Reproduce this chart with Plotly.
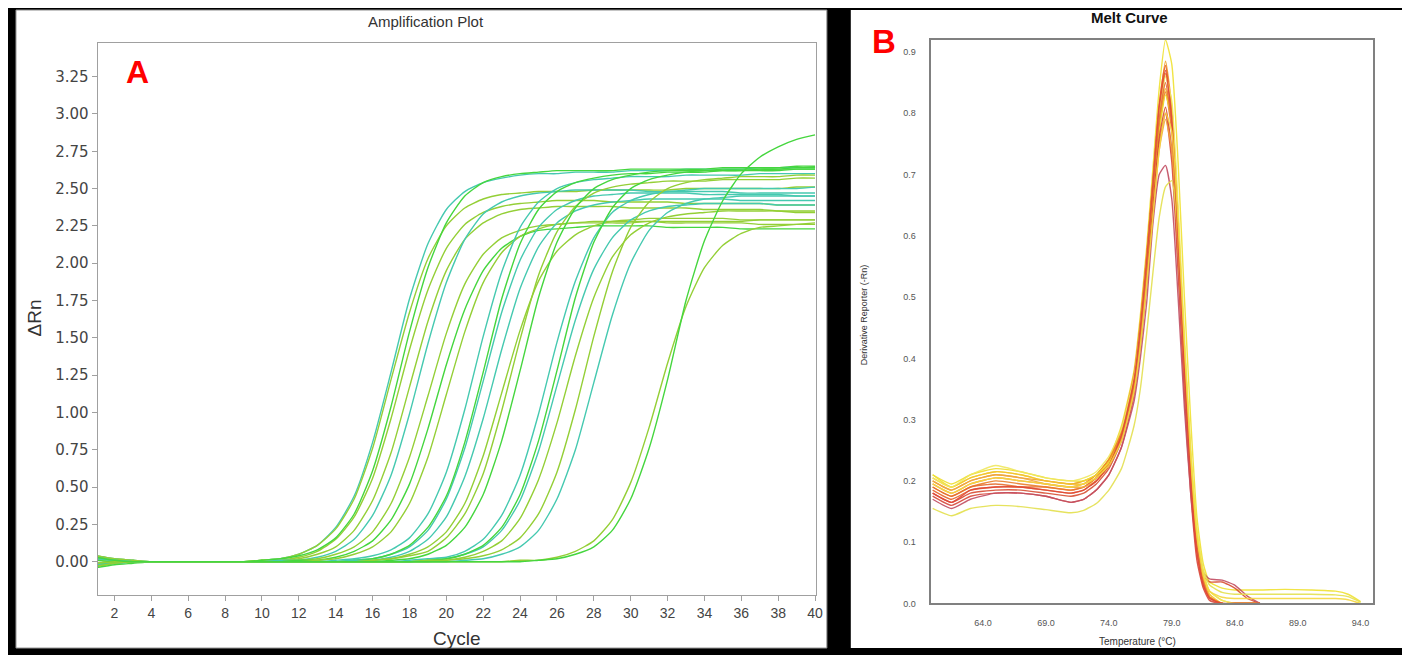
import plotly.graph_objects as go

# ---------------- Panel A: amplification plot (delta Rn per cycle) ----------------
cycles = list(range(1, 41))

amp_01 = [0.03, 0.01, 0, 0, 0, 0, 0, 0, 0, 0.01,
          0.02, 0.05, 0.11, 0.23, 0.44, 0.80, 1.27, 1.76, 2.13, 2.36,
          2.48, 2.54, 2.57, 2.59, 2.60, 2.60, 2.61, 2.61, 2.61, 2.62,
          2.62, 2.62, 2.63, 2.63, 2.63, 2.63, 2.64, 2.64, 2.64, 2.64]
amp_02 = [-0.02, -0.01, 0, 0, 0, 0, 0, 0, 0, 0.01,
          0.02, 0.05, 0.11, 0.22, 0.42, 0.76, 1.22, 1.67, 2.03, 2.25,
          2.37, 2.43, 2.46, 2.47, 2.48, 2.48, 2.48, 2.49, 2.49, 2.49,
          2.49, 2.49, 2.50, 2.50, 2.50, 2.50, 2.50, 2.50, 2.51, 2.51]
amp_03 = [0.04, 0.02, 0.01, 0, 0, 0, 0, 0, 0, 0.01,
          0.01, 0.03, 0.07, 0.15, 0.30, 0.56, 0.96, 1.42, 1.82, 2.10,
          2.26, 2.34, 2.38, 2.40, 2.41, 2.42, 2.42, 2.42, 2.41, 2.41,
          2.41, 2.41, 2.40, 2.40, 2.40, 2.40, 2.40, 2.39, 2.39, 2.39]
amp_04 = [-0.03, -0.01, 0, 0, 0, 0, 0, 0, 0, 0.01,
          0.02, 0.04, 0.08, 0.16, 0.32, 0.61, 1.04, 1.54, 1.97, 2.27,
          2.45, 2.54, 2.58, 2.60, 2.61, 2.62, 2.62, 2.62, 2.62, 2.63,
          2.63, 2.63, 2.63, 2.63, 2.64, 2.64, 2.64, 2.64, 2.65, 2.65]
amp_05 = [0.02, 0.01, 0, 0, 0, 0, 0, 0, 0, 0,
          0.01, 0.02, 0.05, 0.10, 0.21, 0.41, 0.73, 1.17, 1.61, 1.95,
          2.16, 2.27, 2.33, 2.36, 2.37, 2.38, 2.38, 2.38, 2.38, 2.37,
          2.37, 2.37, 2.37, 2.36, 2.36, 2.36, 2.36, 2.35, 2.35, 2.35]
amp_06 = [-0.01, 0, 0, 0, 0, 0, 0, 0, 0, 0,
          0.01, 0.01, 0.03, 0.07, 0.15, 0.31, 0.58, 0.99, 1.46, 1.87,
          2.16, 2.33, 2.41, 2.45, 2.47, 2.48, 2.49, 2.49, 2.49, 2.49,
          2.48, 2.48, 2.48, 2.48, 2.48, 2.47, 2.47, 2.47, 2.47, 2.47]
amp_07 = [0.03, 0.01, 0, 0, 0, 0, 0, 0, 0, 0,
          0, 0.01, 0.02, 0.05, 0.10, 0.20, 0.39, 0.70, 1.11, 1.53,
          1.86, 2.06, 2.17, 2.22, 2.25, 2.26, 2.27, 2.27, 2.27, 2.27,
          2.28, 2.28, 2.28, 2.28, 2.28, 2.28, 2.29, 2.29, 2.29, 2.29]
amp_08 = [-0.04, -0.02, -0.01, 0, 0, 0, 0, 0, 0, 0,
          0, 0.01, 0.01, 0.03, 0.07, 0.14, 0.28, 0.52, 0.89, 1.32,
          1.69, 1.95, 2.10, 2.18, 2.22, 2.23, 2.24, 2.25, 2.25, 2.25,
          2.25, 2.24, 2.24, 2.24, 2.24, 2.23, 2.23, 2.23, 2.23, 2.23]
amp_09 = [0.01, 0, 0, 0, 0, 0, 0, 0, 0, 0,
          0, 0, 0.01, 0.02, 0.05, 0.10, 0.20, 0.39, 0.70, 1.12,
          1.54, 1.87, 2.07, 2.18, 2.23, 2.26, 2.27, 2.28, 2.28, 2.28,
          2.28, 2.27, 2.27, 2.27, 2.27, 2.27, 2.26, 2.26, 2.26, 2.26]
amp_10 = [-0.02, -0.01, 0, 0, 0, 0, 0, 0, 0, 0,
          0, 0, 0, 0.01, 0.02, 0.04, 0.08, 0.16, 0.32, 0.60,
          1.02, 1.51, 1.94, 2.24, 2.41, 2.50, 2.54, 2.56, 2.57, 2.58,
          2.58, 2.58, 2.59, 2.59, 2.59, 2.59, 2.60, 2.60, 2.60, 2.60]
amp_11 = [0.02, 0.01, 0, 0, 0, 0, 0, 0, 0, 0,
          0, 0, 0, 0, 0.01, 0.02, 0.05, 0.10, 0.21, 0.42,
          0.76, 1.21, 1.67, 2.02, 2.24, 2.36, 2.42, 2.45, 2.46, 2.47,
          2.47, 2.47, 2.47, 2.46, 2.46, 2.46, 2.46, 2.46, 2.45, 2.45]
amp_12 = [-0.03, -0.01, 0, 0, 0, 0, 0, 0, 0, 0,
          0, 0, 0, 0, 0.01, 0.02, 0.05, 0.11, 0.23, 0.44,
          0.80, 1.27, 1.76, 2.13, 2.36, 2.48, 2.54, 2.57, 2.59, 2.60,
          2.60, 2.61, 2.61, 2.61, 2.62, 2.62, 2.62, 2.62, 2.63, 2.63]
amp_13 = [0.04, 0.02, 0.01, 0, 0, 0, 0, 0, 0, 0,
          0, 0, 0, 0, 0.01, 0.01, 0.03, 0.07, 0.15, 0.30,
          0.57, 0.96, 1.42, 1.83, 2.11, 2.27, 2.35, 2.39, 2.41, 2.42,
          2.43, 2.43, 2.43, 2.43, 2.43, 2.42, 2.42, 2.42, 2.42, 2.42]
amp_14 = [-0.01, 0, 0, 0, 0, 0, 0, 0, 0, 0,
          0, 0, 0, 0, 0, 0.01, 0.02, 0.05, 0.10, 0.20,
          0.39, 0.71, 1.13, 1.55, 1.88, 2.08, 2.19, 2.25, 2.28, 2.29,
          2.30, 2.30, 2.30, 2.30, 2.30, 2.29, 2.29, 2.29, 2.29, 2.29]
amp_15 = [0.02, 0.01, 0, 0, 0, 0, 0, 0, 0, 0,
          0, 0, 0, 0, 0, 0.01, 0.02, 0.04, 0.07, 0.16,
          0.32, 0.59, 1.01, 1.49, 1.92, 2.21, 2.38, 2.47, 2.51, 2.53,
          2.54, 2.55, 2.55, 2.55, 2.56, 2.56, 2.56, 2.56, 2.57, 2.57]
amp_16 = [-0.02, -0.01, 0, 0, 0, 0, 0, 0, 0, 0,
          0, 0, 0, 0, 0, 0, 0.01, 0.02, 0.05, 0.11,
          0.23, 0.45, 0.81, 1.28, 1.77, 2.14, 2.37, 2.50, 2.56, 2.59,
          2.61, 2.62, 2.62, 2.62, 2.63, 2.63, 2.63, 2.63, 2.64, 2.64]
amp_17 = [0.03, 0.01, 0, 0, 0, 0, 0, 0, 0, 0,
          0, 0, 0, 0, 0, 0, 0, 0.01, 0.02, 0.03,
          0.07, 0.15, 0.31, 0.58, 0.99, 1.47, 1.88, 2.17, 2.34, 2.42,
          2.46, 2.48, 2.49, 2.50, 2.50, 2.50, 2.50, 2.50, 2.50, 2.51]
amp_18 = [-0.02, -0.01, 0, 0, 0, 0, 0, 0, 0, 0,
          0, 0, 0, 0, 0, 0, 0, 0, 0.01, 0.02,
          0.05, 0.10, 0.21, 0.41, 0.74, 1.18, 1.62, 1.96, 2.17, 2.29,
          2.35, 2.38, 2.39, 2.40, 2.40, 2.40, 2.40, 2.39, 2.39, 2.39]
amp_19 = [0.01, 0, 0, 0, 0, 0, 0, 0, 0, 0,
          0, 0, 0, 0, 0, 0, 0, 0, 0.01, 0.02,
          0.05, 0.11, 0.23, 0.45, 0.81, 1.28, 1.77, 2.14, 2.37, 2.50,
          2.56, 2.59, 2.61, 2.62, 2.62, 2.62, 2.63, 2.63, 2.63, 2.63]
amp_20 = [0.04, 0.02, 0.01, 0, 0, 0, 0, 0, 0, 0,
          0, 0, 0, 0, 0, 0, 0, 0, 0.01, 0.01,
          0.03, 0.07, 0.14, 0.29, 0.55, 0.93, 1.38, 1.77, 2.04, 2.19,
          2.27, 2.31, 2.33, 2.34, 2.35, 2.35, 2.35, 2.35, 2.34, 2.34]
amp_21 = [-0.03, -0.01, 0, 0, 0, 0, 0, 0, 0, 0,
          0, 0, 0, 0, 0, 0, 0, 0, 0, 0.01,
          0.02, 0.04, 0.08, 0.16, 0.32, 0.60, 1.02, 1.51, 1.94, 2.24,
          2.41, 2.50, 2.54, 2.56, 2.57, 2.58, 2.58, 2.58, 2.59, 2.59]
amp_22 = [0.02, 0.01, 0, 0, 0, 0, 0, 0, 0, 0,
          0, 0, 0, 0, 0, 0, 0, 0, 0, 0,
          0.01, 0.02, 0.05, 0.10, 0.21, 0.42, 0.75, 1.20, 1.65, 2.00,
          2.22, 2.34, 2.40, 2.43, 2.44, 2.45, 2.45, 2.45, 2.45, 2.45]
amp_23 = [-0.01, 0, 0, 0, 0, 0, 0, 0, 0, 0,
          0, 0, 0, 0, 0, 0, 0, 0, 0, 0,
          0, 0, 0, 0.01, 0.01, 0.03, 0.07, 0.14, 0.28, 0.53,
          0.90, 1.33, 1.71, 1.97, 2.12, 2.20, 2.24, 2.25, 2.26, 2.27]
amp_24 = [0.03, 0.01, 0, 0, 0, 0, 0, 0, 0, 0,
          0, 0, 0, 0, 0, 0, 0, 0, 0, 0,
          0, 0, 0, 0, 0.01, 0.02, 0.05, 0.10, 0.21, 0.42,
          0.76, 1.22, 1.75, 2.15, 2.42, 2.60, 2.71, 2.78, 2.83, 2.86]

teal, lime, green = "#45c9b0", "#94cf36", "#45d63e"
amp_colors = [teal, lime, lime, green, lime, teal, lime, green, lime, teal, teal, green,
              teal, lime, lime, green, teal, teal, green, lime, lime, teal, lime, green]

amp_xticks = list(range(2, 41, 2))
amp_yticks = [0.0, 0.25, 0.5, 0.75, 1.0, 1.25, 1.5, 1.75, 2.0, 2.25, 2.5, 2.75, 3.0, 3.25]

# ---------------- Panel B: melt curve (derivative reporter vs temperature) ----------------
melt_temp = [60, 61.5, 63, 65, 67, 69, 71, 72, 73, 74, 75,
             76, 76.5, 77, 77.5, 78, 78.5, 79, 79.5, 80, 80.5, 81, 81.5, 82,
             83, 84, 85, 86,
             88, 90, 92, 93, 94]

melt_01 = [0.21, 0.19, 0.205, 0.215, 0.21, 0.20, 0.195, 0.20, 0.21, 0.235, 0.29,
           0.38, 0.47, 0.58, 0.71, 0.84, 0.92, 0.88, 0.72, 0.50, 0.30, 0.14, 0.065, 0.035,
           0.025, 0.022, 0.022, 0.022,
           0.023, 0.022, 0.02, 0.015, 0.003]
melt_02 = [0.20, 0.185, 0.20, 0.21, 0.205, 0.20, 0.195, 0.20, 0.21, 0.235, 0.285,
           0.375, 0.46, 0.57, 0.69, 0.81, 0.885, 0.81, 0.63, 0.41, 0.22, 0.10, 0.04, 0.01,
           0, 0, 0, 0]
melt_03 = [0.185, 0.17, 0.185, 0.19, 0.19, 0.19, 0.185, 0.19, 0.205, 0.23, 0.28,
           0.37, 0.455, 0.565, 0.69, 0.815, 0.878, 0.79, 0.60, 0.38, 0.20, 0.09, 0.03, 0.01,
           0, 0, 0, 0]
melt_04 = [0.195, 0.18, 0.195, 0.205, 0.20, 0.195, 0.19, 0.195, 0.21, 0.235, 0.28,
           0.37, 0.45, 0.56, 0.68, 0.80, 0.865, 0.80, 0.62, 0.40, 0.22, 0.10, 0.04, 0.01,
           0, 0, 0, 0]
melt_05 = [0.205, 0.19, 0.205, 0.215, 0.21, 0.20, 0.195, 0.195, 0.205, 0.23, 0.275,
           0.36, 0.44, 0.54, 0.66, 0.78, 0.84, 0.79, 0.62, 0.41, 0.23, 0.11, 0.05, 0.015,
           0, 0, 0, 0]
melt_06 = [0.19, 0.175, 0.19, 0.20, 0.195, 0.19, 0.185, 0.19, 0.205, 0.23, 0.275,
           0.36, 0.44, 0.545, 0.66, 0.775, 0.835, 0.77, 0.59, 0.38, 0.21, 0.09, 0.035, 0.01,
           0, 0, 0, 0]
melt_07 = [0.21, 0.195, 0.21, 0.22, 0.215, 0.205, 0.20, 0.20, 0.21, 0.23, 0.27,
           0.35, 0.43, 0.53, 0.65, 0.77, 0.83, 0.79, 0.63, 0.42, 0.24, 0.11, 0.05, 0.02,
           0.005, 0, 0, 0]
melt_08 = [0.18, 0.165, 0.18, 0.185, 0.185, 0.18, 0.175, 0.18, 0.195, 0.22, 0.265,
           0.35, 0.43, 0.53, 0.645, 0.76, 0.81, 0.74, 0.57, 0.37, 0.20, 0.09, 0.045, 0.035,
           0.035, 0.025, 0.008, 0]
melt_09 = [0.175, 0.16, 0.175, 0.18, 0.18, 0.175, 0.165, 0.17, 0.185, 0.21, 0.255,
           0.34, 0.42, 0.52, 0.635, 0.75, 0.80, 0.72, 0.54, 0.34, 0.18, 0.07, 0.025, 0.005,
           0, 0, 0, 0]
melt_10 = [0.20, 0.185, 0.20, 0.21, 0.205, 0.195, 0.19, 0.19, 0.20, 0.225, 0.27,
           0.35, 0.42, 0.52, 0.63, 0.74, 0.79, 0.74, 0.58, 0.38, 0.21, 0.10, 0.04, 0.01,
           0, 0, 0, 0]
melt_11 = [0.17, 0.155, 0.17, 0.18, 0.18, 0.175, 0.165, 0.17, 0.185, 0.21, 0.255,
           0.33, 0.40, 0.49, 0.62, 0.70, 0.715, 0.66, 0.50, 0.32, 0.18, 0.09, 0.05, 0.04,
           0.038, 0.03, 0.012, 0]
melt_12 = [0.155, 0.143, 0.155, 0.16, 0.158, 0.153, 0.148, 0.152, 0.163, 0.185, 0.22,
           0.29, 0.35, 0.44, 0.54, 0.63, 0.68, 0.69, 0.60, 0.42, 0.25, 0.12, 0.055, 0.03,
           0.018, 0.015, 0.015, 0.015,
           0.015, 0.015, 0.014, 0.011, 0.002]
melt_13 = [0.205, 0.19, 0.21, 0.225, 0.215, 0.205, 0.20, 0.205, 0.215, 0.24, 0.285,
           0.37, 0.45, 0.56, 0.68, 0.80, 0.86, 0.82, 0.65, 0.44, 0.25, 0.12, 0.05, 0.02,
           0.005, 0, 0, 0]
melt_14 = [0.19, 0.175, 0.19, 0.195, 0.19, 0.185, 0.18, 0.185, 0.20, 0.225, 0.27,
           0.36, 0.44, 0.55, 0.67, 0.79, 0.85, 0.78, 0.60, 0.39, 0.21, 0.09, 0.035, 0.01,
           0, 0, 0, 0]
melt_15 = [0.18, 0.165, 0.185, 0.19, 0.19, 0.185, 0.18, 0.185, 0.20, 0.225, 0.275,
           0.365, 0.45, 0.56, 0.685, 0.81, 0.87, 0.79, 0.60, 0.38, 0.20, 0.08, 0.03, 0.008,
           0, 0, 0, 0]
melt_16 = [0.195, 0.18, 0.195, 0.205, 0.20, 0.195, 0.19, 0.195, 0.205, 0.225, 0.265,
           0.345, 0.42, 0.52, 0.63, 0.74, 0.80, 0.77, 0.62, 0.42, 0.24, 0.11, 0.045, 0.02,
           0.01, 0.008, 0.008, 0.008,
           0.008, 0.008, 0.008, 0.006, 0.0]

melt_colors = ["#f0e232", "#f0a030", "#e8642a", "#f08c20", "#f5c030", "#ec7e2c", "#eedd30", "#d85034",
               "#d84a3c", "#f0a840", "#c25064", "#e4e050", "#f0e860", "#e66e30", "#e0483a", "#f5d840"]

melt_xticks = [64.0, 69.0, 74.0, 79.0, 84.0, 89.0, 94.0]
melt_yticks = [0.0, 0.1, 0.2, 0.3, 0.4, 0.5, 0.6, 0.7, 0.8, 0.9]

amp_curves = [amp_01, amp_02, amp_03, amp_04, amp_05, amp_06, amp_07, amp_08, amp_09, amp_10, amp_11, amp_12,
              amp_13, amp_14, amp_15, amp_16, amp_17, amp_18, amp_19, amp_20, amp_21, amp_22, amp_23, amp_24]
melt_curves = [melt_01, melt_02, melt_03, melt_04, melt_05, melt_06, melt_07, melt_08,
               melt_09, melt_10, melt_11, melt_12, melt_13, melt_14, melt_15, melt_16]

W, H = 1410, 655
DY = 6  # the page renders everything a few px lower than asked, pull it back up


def fx(p):
    return p / W


def fy(p):
    return 1 - (p - DY) / H


fig = go.Figure()

for y, c in zip(amp_curves, amp_colors):
    fig.add_trace(go.Scatter(x=cycles, y=y, mode="lines", xaxis="x", yaxis="y",
                             line=dict(color=c, width=1.4, shape="spline", smoothing=0.6),
                             showlegend=False, hoverinfo="skip"))

for y, c in zip(melt_curves, melt_colors):
    fig.add_trace(go.Scatter(x=melt_temp[:len(y)], y=y, mode="lines", xaxis="x2", yaxis="y2",
                             line=dict(color=c, width=1.4, shape="spline", smoothing=0.5),
                             opacity=0.9, showlegend=False, hoverinfo="skip"))

sans = "Liberation Sans, Arial, sans-serif"

fig.update_layout(
    width=W, height=H,
    margin=dict(l=0, r=0, t=0, b=0),
    paper_bgcolor="black",
    plot_bgcolor="white",
    font=dict(family=sans, color="#333333"),
    xaxis=dict(domain=[fx(90), fx(812)], range=[1.08, 40.05], anchor="y",
               tickmode="array", tickvals=amp_xticks,
               showline=True, mirror=True, linecolor="#a0a0a0", linewidth=1,
               ticks="outside", ticklen=5, tickcolor="#a0a0a0",
               tickfont=dict(family=sans, size=14, color="#444444"),
               showgrid=False, zeroline=False),
    yaxis=dict(domain=[fy(598), fy(41)], range=[-0.226, 3.477], anchor="x",
               tickmode="array", tickvals=amp_yticks, tickformat=".2f",
               showline=True, mirror=True, linecolor="#a0a0a0", linewidth=1,
               ticks="outside", ticklen=5, tickcolor="#a0a0a0",
               tickfont=dict(family="DejaVu Sans, sans-serif", size=15, color="#444444"),
               showgrid=False, zeroline=False),
    xaxis2=dict(domain=[fx(928), fx(1372)], range=[59.9, 95.0], anchor="y2",
                tickmode="array", tickvals=melt_xticks, tickformat=".1f",
                showline=True, mirror=True, linecolor="#808080", linewidth=1.5,
                ticks="", ticklabelstandoff=10,
                tickfont=dict(family=sans, size=9, color="#555555"),
                showgrid=False, zeroline=False),
    yaxis2=dict(domain=[fy(606), fy(38)], range=[0, 0.92], anchor="x2",
                tickmode="array", tickvals=melt_yticks, tickformat=".1f",
                showline=True, mirror=True, linecolor="#808080", linewidth=1.5,
                ticks="", ticklabelstandoff=12,
                tickfont=dict(family=sans, size=9, color="#555555"),
                showgrid=False, zeroline=False),
)

# white panel backgrounds on the black page
fig.add_shape(type="rect", xref="paper", yref="paper", layer="below",
              x0=fx(8), x1=fx(823), y0=fy(651), y1=fy(8),
              fillcolor="white", line=dict(color="#888888", width=1))
fig.add_shape(type="rect", xref="paper", yref="paper", layer="below",
              x0=fx(847), x1=fx(1404), y0=fy(651), y1=fy(8),
              fillcolor="white", line=dict(width=0))


def label(text, x, y, size, color="#333333", bold=False, angle=0, family=sans):
    fig.add_annotation(text=f"<b>{text}</b>" if bold else text,
                       x=fx(x), y=fy(y), xref="paper", yref="paper",
                       xanchor="center", yanchor="middle", showarrow=False, textangle=angle,
                       font=dict(family=family, size=size, color=color))


label("Amplification Plot", 420, 20, 15)
label("Cycle", 451, 641, 19)
label("ΔRn", 27, 318, 19, angle=-90)
label("A", 130, 70, 32, color="#ff0000", bold=True)

label("Melt Curve", 1127, 16, 15, color="#111111", bold=True)
label("Temperature (°C)", 1135, 644, 10)
label("Derivative Reporter (-Rn)", 860, 315, 9, angle=-90)
label("B", 880, 40, 33, color="#ff0000", bold=True)

fig.write_html("out.html")
